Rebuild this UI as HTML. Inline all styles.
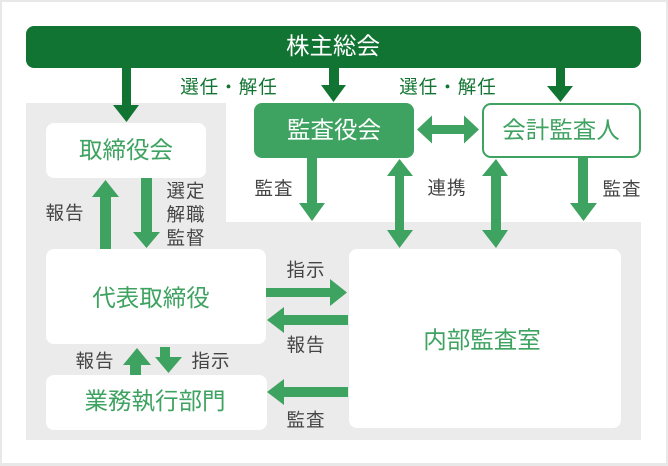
<!DOCTYPE html>
<html><head><meta charset="utf-8">
<style>
html,body{margin:0;padding:0;background:#fff;}
svg{display:block;}
text{font-family:"Liberation Sans","Noto Sans CJK JP",sans-serif;dominant-baseline:central;text-anchor:middle;}
.s{font-size:18.5px;fill:#444;letter-spacing:1px;}
.b{font-size:23.5px;}
</style></head>
<body>
<svg width="668" height="466" viewBox="0 0 668 466" xmlns="http://www.w3.org/2000/svg">
<rect x="0" y="0" width="668" height="466" fill="#e8e8e8"/>
<rect x="2" y="2" width="664" height="461" fill="#fff"/>
<!-- gray area -->
<path d="M26 103 H226 V222 H641 V440 H26 Z" fill="#ebebeb"/>
<!-- top bar -->
<rect x="26" y="26" width="615" height="42" rx="8" fill="#127432"/>
<text x="333" y="46" class="b" fill="#fff">株主総会</text>

<!-- boxes -->
<rect x="46" y="123" width="160" height="55" rx="8" fill="#fff"/>
<text x="126" y="150" class="b" fill="#3ea260">取締役会</text>

<rect x="254" y="103" width="160" height="55" rx="8" fill="#3ea260"/>
<text x="334" y="130" class="b" fill="#fff">監査役会</text>

<rect x="483" y="104" width="157" height="53" rx="8" fill="#fff" stroke="#3ea260" stroke-width="2"/>
<text x="561" y="130" class="b" fill="#3ea260">会計監査人</text>

<rect x="46" y="249" width="220" height="95" rx="8" fill="#fff"/>
<text x="151" y="298" class="b" fill="#3ea260">代表取締役</text>

<rect x="46" y="375" width="221" height="55" rx="8" fill="#fff"/>
<text x="155" y="401" class="b" fill="#3ea260">業務執行部門</text>

<rect x="349" y="249" width="272" height="179" rx="8" fill="#fff"/>
<text x="482" y="340" class="b" fill="#3ea260">内部監査室</text>

<!-- dark arrows from top bar -->
<g fill="#127432">
<polygon points="122,68 131,68 131,105 139,105 126.5,122 113,105 122,105"/>
<polygon points="329,68 339,68 339,85 346,85 333.5,102 321,85 329,85"/>
<polygon points="556,68 565,68 565,86 573,86 560.5,102 547,86 556,86"/>
</g>

<!-- medium arrows -->
<g fill="#3ea260">
<!-- horizontal double 監査役会<->会計監査人 -->
<polygon points="417,129.5 432,115.5 432,125 464,125 464,115.5 479,129.5 464,143.5 464,134 432,134 432,143.5"/>
<!-- 報告 up -->
<polygon points="100,249 111,249 111,197 119,197 105.5,180 92,197 100,197"/>
<!-- 選定 down -->
<polygon points="141,178 152,178 152,232 160,232 146.5,248 133,232 141,232"/>
<!-- 監査役会 down 監査 -->
<polygon points="307,158 317,158 317,203 325,203 312,221 299,203 307,203"/>
<!-- 監査役会 <-> 内部 -->
<polygon points="399.5,159 413,176 404,176 404,230 413,230 399.5,248 387,230 395,230 395,176 387,176"/>
<!-- 会計監査人 <-> 内部 -->
<polygon points="496,159 508,176 501,176 501,230 508,230 496,248 482,230 491,230 491,176 482,176"/>
<!-- 会計監査人 down 監査 -->
<polygon points="578,157 588,157 588,203 597,203 583.5,221 570,203 578,203"/>
<!-- 指示 right -->
<polygon points="266,288 330,288 330,279 347,292.5 330,306 330,297 266,297"/>
<!-- 報告 left -->
<polygon points="348,315 284,315 284,307 267,320 284,333 284,325 348,325"/>
<!-- 監査 left -->
<polygon points="348,387 284,387 284,379 267,392 284,405 284,397 348,397"/>
<!-- 報告 up lower -->
<polygon points="130,375 141,375 141,365 151,365 137,348 123,365 130,365"/>
<!-- 指示 down lower -->
<polygon points="160,347 170,347 170,357 182,357 168.5,373 155,357 160,357"/>
</g>

<!-- labels -->
<text x="229" y="87" class="s" fill="#127432" style="fill:#127432">選任・解任</text>
<text x="448" y="87" class="s" style="fill:#127432">選任・解任</text>
<text x="65" y="213" class="s">報告</text>
<text x="186" y="191" class="s">選定</text>
<text x="186" y="214.5" class="s">解職</text>
<text x="186" y="238" class="s">監督</text>
<text x="274" y="188.5" class="s">監査</text>
<text x="447" y="188" class="s">連携</text>
<text x="622" y="189" class="s">監査</text>
<text x="306" y="270" class="s">指示</text>
<text x="306" y="345" class="s">報告</text>
<text x="306" y="420" class="s">監査</text>
<text x="95" y="361" class="s">報告</text>
<text x="211" y="361" class="s">指示</text>
</svg>
</body></html>
